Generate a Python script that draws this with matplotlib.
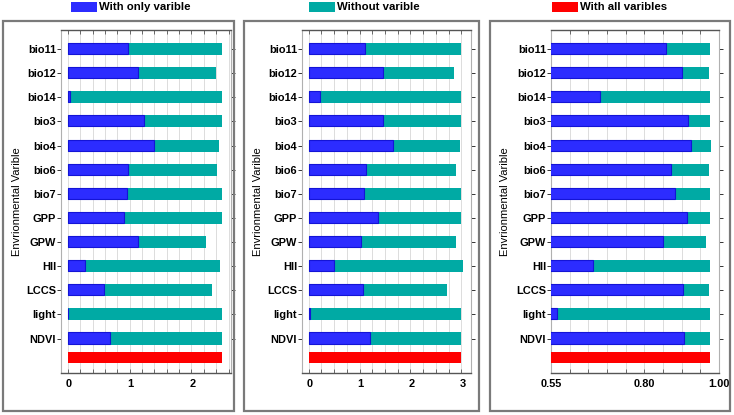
import numpy as np
import matplotlib
matplotlib.use('Agg')
import matplotlib.pyplot as plt
import matplotlib.transforms as mtransforms
from matplotlib.patches import Rectangle
from matplotlib.ticker import FixedLocator

plt.rcParams['font.family'] = ['Liberation Sans', 'DejaVu Sans']

variables = ['bio11', 'bio12', 'bio14', 'bio3', 'bio4', 'bio6', 'bio7',
             'GPP', 'GPW', 'HII', 'LCCS', 'light', 'NDVI']

# training gain
train_only = [0.98, 1.13, 0.04, 1.24, 1.40, 0.98, 0.96, 0.91, 1.14, 0.28, 0.59, 0.0, 0.69]
train_without = [2.49, 2.39, 2.49, 2.49, 2.44, 2.41, 2.49, 2.49, 2.23, 2.47, 2.33, 2.49, 2.49]
train_all = 2.49

# test gain
test_only = [1.11, 1.47, 0.22, 1.47, 1.65, 1.13, 1.09, 1.36, 1.03, 0.49, 1.06, 0.03, 1.21]
test_without = [3.0, 2.86, 3.0, 3.0, 2.97, 2.89, 3.0, 3.0, 2.89, 3.03, 2.71, 3.0, 3.0]
test_all = 3.0

# AUC
auc_only = [0.859, 0.900, 0.682, 0.917, 0.926, 0.872, 0.883, 0.915, 0.851, 0.663, 0.904, 0.566, 0.906]
auc_without = [0.977, 0.974, 0.977, 0.976, 0.978, 0.974, 0.977, 0.976, 0.966, 0.976, 0.973, 0.977, 0.977]
auc_all = 0.977

BLUE = '#2c2cff'
BLUE_EDGE = '#1414d6'
TEAL = '#00aaa4'
RED = '#ff0000'

W, H = 734, 415
fig = plt.figure(figsize=(W / 100, H / 100), dpi=100)

def px(x0, y0, x1, y1):
    # pixel box (top-left origin) -> figure fraction rect
    return [x0 / W, (H - y1) / H, (x1 - x0) / W, (y1 - y0) / H]

panels = [
    dict(only=train_only, without=train_without, full=train_all,
         box=(3, 21, 234, 411), ax=(61, 30, 231, 373), ylab_x=22, shift=1,
         xlim=(-0.11, 2.64), step=0.2, labels=[0, 1, 2], fmt='{:g}'),
    dict(only=test_only, without=test_without, full=test_all,
         box=(244, 21, 479, 411), ax=(302, 30, 471, 373), ylab_x=263, shift=1,
         xlim=(-0.13, 3.19), step=0.25, labels=[0, 1, 2, 3], fmt='{:g}'),
    dict(only=auc_only, without=auc_without, full=auc_all,
         box=(490, 21, 730, 411), ax=(551, 30, 719, 373), ylab_x=510, shift=0,
         xlim=(0.55, 1.0), step=0.05, labels=[0.55, 0.80, 1.00], fmt='{:.2f}'),
]

ypos = np.arange(len(variables))
y_all = len(variables) - 0.2

for p in panels:
    fig.patches.append(Rectangle((p['box'][0] / W, (H - p['box'][3]) / H),
                                 (p['box'][2] - p['box'][0]) / W,
                                 (p['box'][3] - p['box'][1]) / H,
                                 transform=fig.transFigure, fill=False,
                                 edgecolor='#7a7a7a', linewidth=1.6))
    ax = fig.add_axes(px(*p['ax']))
    ax.barh(ypos, p['without'], height=0.5, color=TEAL, zorder=2)
    ax.barh(ypos - 0.02, p['only'], height=0.46, color=BLUE,
            edgecolor=BLUE_EDGE, linewidth=0.8, zorder=3)
    ax.barh([y_all], [p['full']], height=0.46, color=RED, zorder=3)

    ax.set_xlim(*p['xlim'])
    ax.set_ylim(len(variables) + 0.43, -0.79)
    ax.set_yticks(ypos)
    ax.set_yticklabels(variables, fontsize=7.9, fontweight='bold')
    ax.tick_params(axis='y', which='both', direction='out', length=3, width=0.7,
                   pad=0.5, color='#333333', right=True)
    lo = p['xlim'][0]
    start = np.ceil(lo / p['step'] - 1e-9) * p['step']
    grid = np.arange(start, p['xlim'][1] + 1e-9, p['step'])
    ax.xaxis.set_minor_locator(FixedLocator(grid))
    ax.set_xticks(p['labels'])
    ax.set_xticklabels([p['fmt'].format(v) for v in p['labels']],
                       fontsize=7.9, fontweight='bold')
    ax.tick_params(axis='x', which='both', direction='in', length=3, width=0.6,
                   top=True, color='#555555', pad=4)
    off = mtransforms.ScaledTranslation(p['shift'] / 100, 0, fig.dpi_scale_trans)
    for lab in ax.get_xticklabels():
        lab.set_transform(lab.get_transform() + off)
    ax.grid(True, axis='x', which='both', color='#dcdcdc', linewidth=0.7, zorder=0)
    ax.set_axisbelow(True)
    for s in ['top', 'bottom']:
        ax.spines[s].set_color('#555555')
        ax.spines[s].set_linewidth(1.0)
    for s in ['left', 'right']:
        ax.spines[s].set_color('#b0b0b0')
        ax.spines[s].set_linewidth(0.8)
    ax.set_ylabel('Envrionmental Varible', fontsize=8)
    ax.yaxis.set_label_coords((p['ylab_x'] - p['ax'][0]) / (p['ax'][2] - p['ax'][0]), 0.5)

# legend row
legend = [('With only varible', BLUE, 71), ('Without varible', TEAL, 309),
          ('With all varibles', RED, 552)]
for text, col, x0 in legend:
    fig.patches.append(Rectangle((x0 / W, (H - 12.5) / H), 26 / W, 10 / H,
                                 transform=fig.transFigure, facecolor=col,
                                 edgecolor='none'))
    fig.text((x0 + 28) / W, (H - 7.5) / H, text, fontsize=8.2, fontweight='bold',
             va='center', ha='left')

fig.savefig('out.png', dpi=100)
